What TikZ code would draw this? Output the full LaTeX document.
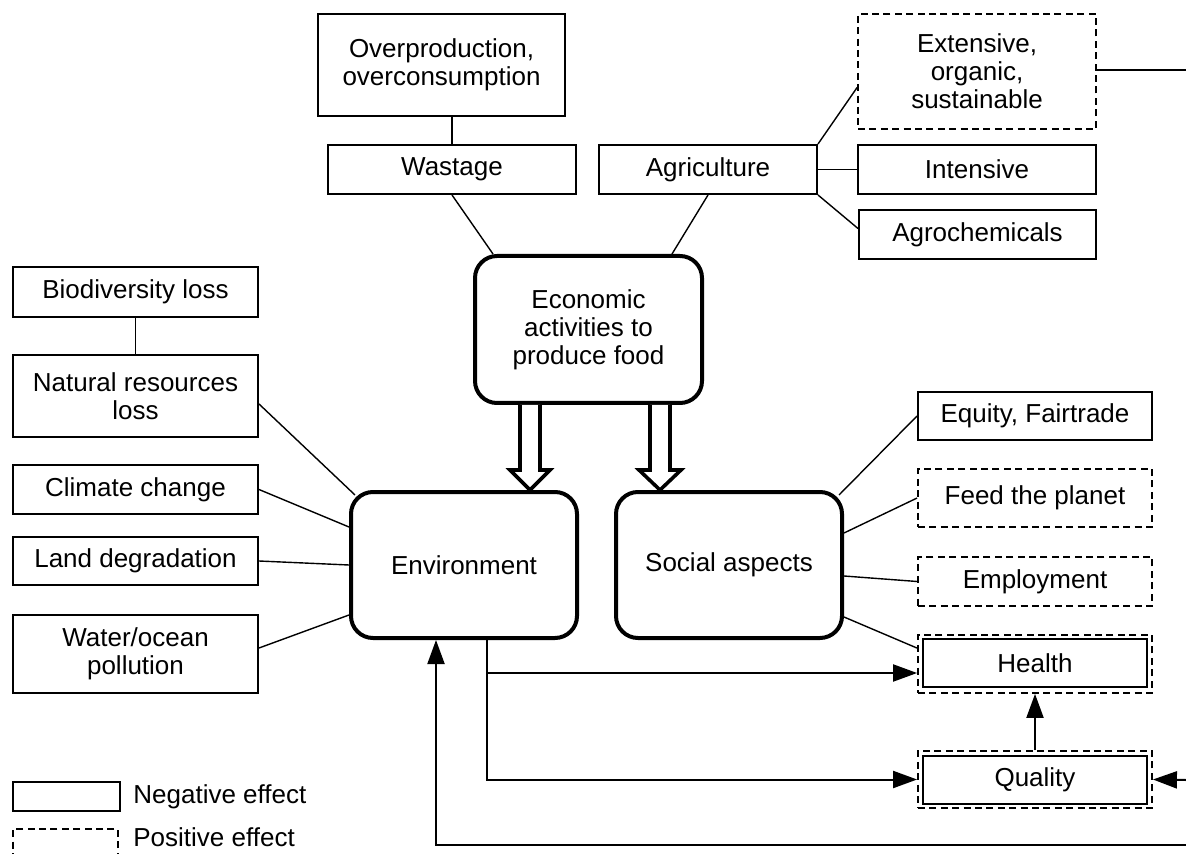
\documentclass[tikz,border=0pt]{standalone}
\usepackage{fontspec}
\setmainfont{Liberation Sans}
\usetikzlibrary{fit,calc,arrows.meta}
\begin{document}
\begin{tikzpicture}[x=0.5pt,y=-0.5pt,
  every node/.style={font=\fontsize{13pt}{14pt}\selectfont, align=center, inner sep=0pt},
  nbox/.style={draw, line width=1pt},
  pbox/.style={draw, line width=0.9pt, dash pattern=on 3.5pt off 2.2pt},
  mainbox/.style={draw, line width=2pt, rounded corners=11pt},
  conn/.style={line width=0.7pt},
  arr/.style={line width=1pt, -{Triangle[length=12pt,width=8.5pt]}},
  hollow/.style={line width=1.8pt, fill=white, line join=miter}
]
\useasboundingbox (0,0) rectangle (1186,854);

% top
\node[nbox, fit={(318,14) (565,116)}, label={center:{Overproduction,\\overconsumption}}] (over) {};
\node[nbox, fit={(328,145) (576,194)}, label={center:Wastage}] (waste) {};
\node[nbox, fit={(599,145) (817,194)}, label={center:Agriculture}] (agri) {};
\node[pbox, fit={(858,14) (1096,129)}, label={center:{Extensive,\\organic,\\sustainable}}] (ext) {};
\node[nbox, fit={(858,145) (1096,194)}, label={center:Intensive}] (inten) {};
\node[nbox, fit={(859,210) (1096,259)}, label={center:Agrochemicals}] (agro) {};

% main boxes
\node[mainbox, fit={(475,256) (702,403)}, label={center:{\fontsize{13pt}{15pt}\selectfont Economic\\activities to\\produce food}}] (econ) {};
\node[mainbox, fit={(351,492) (577,638)}, label={center:Environment}] (env) {};
\node[mainbox, fit={(616,492) (842,638)}, label={center:Social aspects}] (soc) {};

% left
\node[nbox, fit={(13,267) (258,317)}, label={center:Biodiversity loss}] (bio) {};
\node[nbox, fit={(13,355) (258,437)}, label={center:{Natural resources\\loss}}] (nat) {};
\node[nbox, fit={(13,465) (258,514)}, label={center:Climate change}] (clim) {};
\node[nbox, fit={(13,537) (258,585)}, label={center:Land degradation}] (land) {};
\node[nbox, fit={(13,615) (258,693)}, label={center:{Water/ocean\\pollution}}] (water) {};

% right
\node[nbox, fit={(918,392) (1152,440)}, label={center:{Equity, Fairtrade}}] (equity) {};
\node[pbox, fit={(918,469) (1152,527)}, label={center:Feed the planet}] (feed) {};
\node[pbox, fit={(918,557) (1152,606)}, label={center:Employment}] (emp) {};
\node[pbox, fit={(918,635) (1152,693)}] (healthO) {};
\node[nbox, fit={(923,639) (1147,687)}, label={center:Health}] (health) {};
\node[pbox, fit={(918,751) (1152,808)}] (qualO) {};
\node[nbox, fit={(923,756) (1147,804)}, label={center:Quality}] (qual) {};

% legend
\node[nbox, fit={(13,782) (120,811)}] (legneg) {};
\node[anchor=west] (legnegt) at (133,797) {Negative effect};
\node[pbox, fit={(13,829) (118,880)}] (legpos) {};
\node[anchor=west] (legpost) at (133,837) {Positive effect};

% free ends
\coordinate (extend) at (1186,70);
\coordinate (qin) at (1186,780);
\coordinate (loop) at (1186,845);

% connectors top
\draw[conn] (waste.north |- over.south) -- (waste.north);
\draw[conn] (waste.south) -- ($(econ.north west)+(20,0)$);
\draw[conn] (agri.south) -- ($(econ.north east)+(-32,0)$);
\draw[conn] (agri.north east) -- ($(ext.west)+(0,16)$);
\draw[conn] (agri.east) -- (inten.west);
\draw[conn] (agri.south east) -- ($(agro.west)+(0,-6)$);
\draw[conn] (ext.east |- extend) -- (extend);

% connectors left
\draw[conn] (bio.south) -- (nat.north);
\draw[conn] ($(nat.east)+(0,8)$) -- ($(env.north west)+(6,5)$);
\draw[conn] (clim.east) -- ($(env.west)+(0,-38)$);
\draw[conn] (land.east) -- (env.west);
\draw[conn] ($(water.east)+(0,-6)$) -- ($(env.west)+(0,50)$);

% connectors right
\draw[conn] ($(soc.north east)+(-5,5)$) -- (equity.west);
\draw[conn] ($(soc.east)+(0,-32)$) -- (feed.west);
\draw[conn] ($(soc.east)+(0,11)$) -- (emp.west);
\draw[conn] ($(soc.east)+(0,52)$) -- ($(healthO.north west)+(0,14)$);

% hollow arrows
\draw[hollow] (econ.south -| 520,0) -- (520,470) -- (510,470) -- (530,490) -- (550,470) -- (540,470) -- (econ.south -| 540,0);
\draw[hollow] (econ.south -| 650,0) -- (650,470) -- (639,470) -- (660,490) -- (681,470) -- (670,470) -- (econ.south -| 670,0);

% arrows
\draw[arr] ($(env.south)+(23,0)$) |- ($(healthO.west)+(0,9)$);
\draw[arr] ($(env.south)+(23,0)$) |- (qualO.west);
\draw[arr] (qualO.north) -- (healthO.south);
\draw[arr] (qin) -- (qualO.east);
\draw[arr] (loop) -| ($(env.south)+(-28,0)$);
\end{tikzpicture}
\end{document}
